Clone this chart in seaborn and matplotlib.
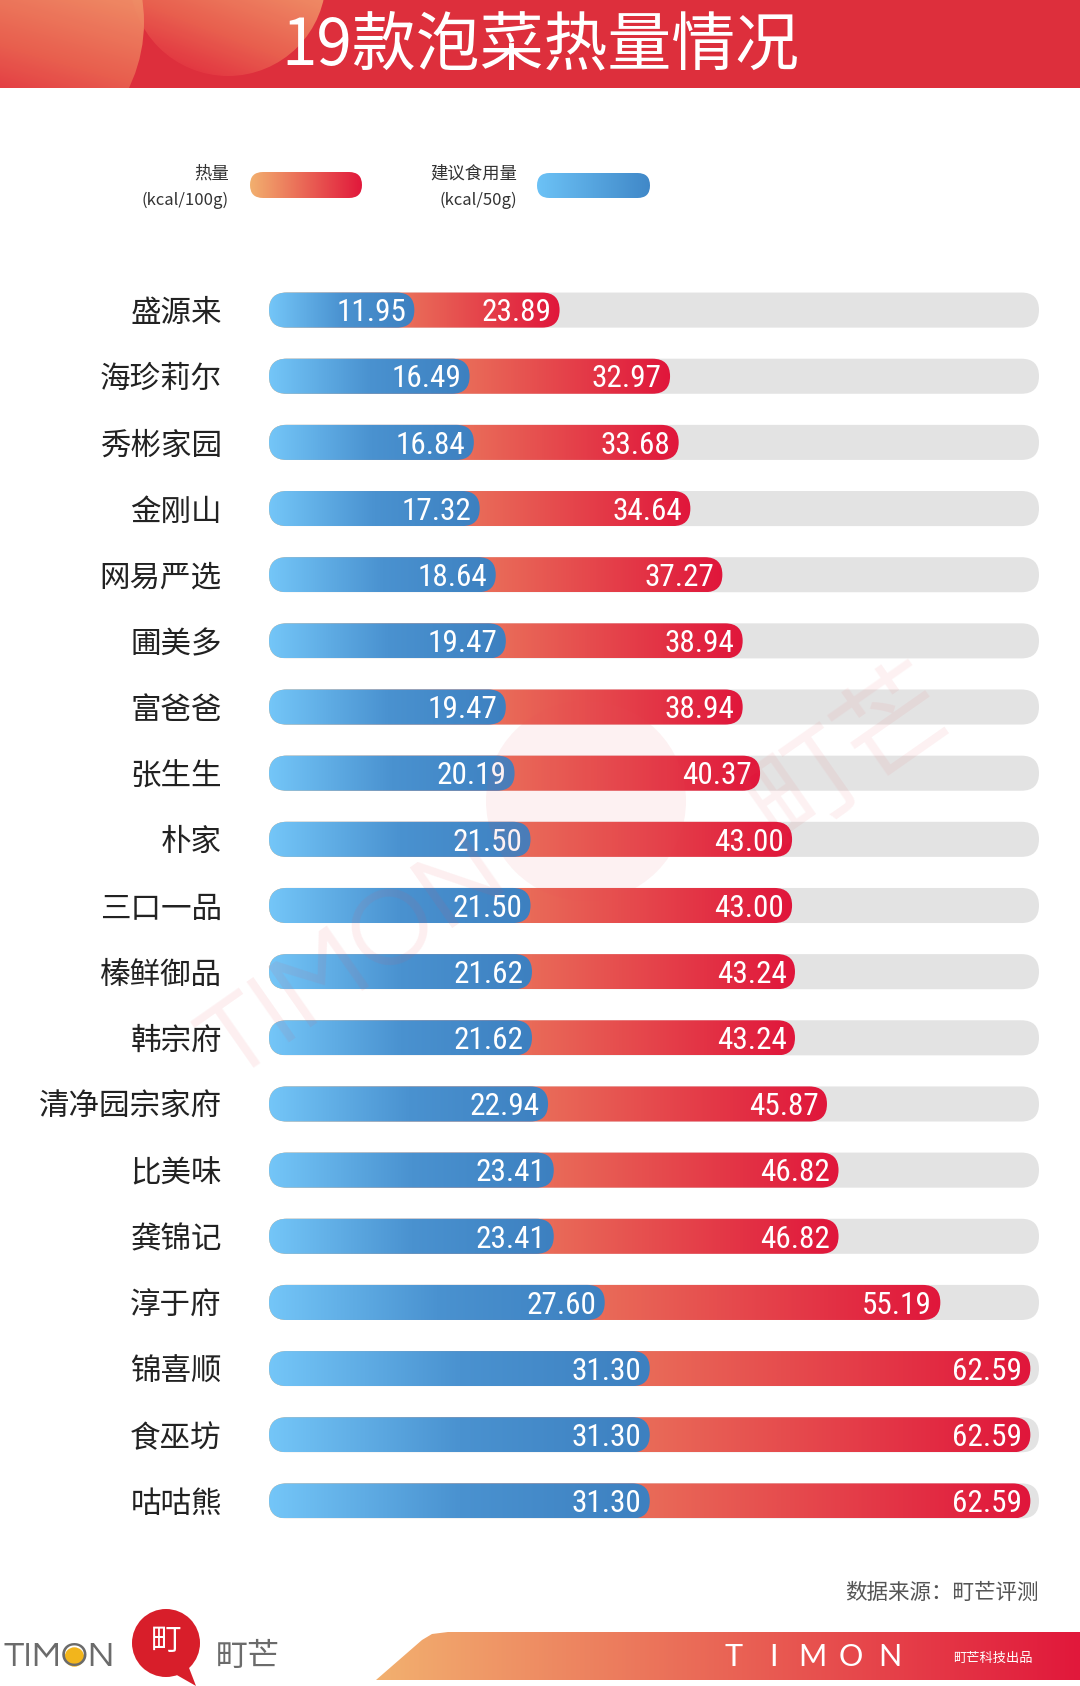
import numpy as np
import pandas as pd
import matplotlib
matplotlib.use("Agg")
import matplotlib.pyplot as plt
import seaborn as sns
from matplotlib import font_manager as fm
from matplotlib.patches import FancyBboxPatch, Circle, Polygon, Rectangle
from matplotlib.colors import LinearSegmentedColormap

# données
brands = ["盛源来", "海珍莉尔", "秀彬家园", "金刚山", "网易严选", "圃美多", "富爸爸", "张生生",
          "朴家", "三口一品", "榛鲜御品", "韩宗府", "清净园宗家府", "比美味", "龚锦记", "淳于府",
          "锦喜顺", "食巫坊", "咕咕熊"]
heat = [23.89, 32.97, 33.68, 34.64, 37.27, 38.94, 38.94, 40.37, 43.00, 43.00,
        43.24, 43.24, 45.87, 46.82, 46.82, 55.19, 62.59, 62.59, 62.59]
serving = [11.95, 16.49, 16.84, 17.32, 18.64, 19.47, 19.47, 20.19, 21.50, 21.50,
           21.62, 21.62, 22.94, 23.41, 23.41, 27.60, 31.30, 31.30, 31.30]

title = "19款泡菜热量情况"
source = "数据来源：町芒评测"

W, H = 1080, 1686
TRACK_MAX = 63.3
BAR_H = 0.53

installed = {f.name for f in fm.fontManager.ttflist}
def pick(cands):
    for c in cands:
        if c in installed:
            return c
    return "DejaVu Sans"

CJK = ["Noto Sans CJK SC", "DejaVu Sans"]
NUM = [pick(["Roboto Condensed", "Fira Sans Condensed", "PT Sans Narrow", "Archivo Narrow",
             "Liberation Sans Narrow"]), "DejaVu Sans"]
LOGO = [pick(["Questrial", "Didact Gothic", "Lato", "Roboto"]), "DejaVu Sans"]
THIN = [pick(["Lato", "Roboto", "Open Sans"]), "DejaVu Sans"]

sns.set_theme(style="white")
plt.rcParams["font.family"] = CJK

red_cmap = LinearSegmentedColormap.from_list("red", ["#f3b473", "#e96a58", "#e0163b"])
blue_cmap = LinearSegmentedColormap.from_list("blue", ["#74c6f8", "#4a92d0", "#3d80c0"])
red_leg = LinearSegmentedColormap.from_list("redl", ["#f2b06f", "#e1183b"])
blue_leg = LinearSegmentedColormap.from_list("bluel", ["#6cc2f6", "#4088c8"])
circ_cmap = LinearSegmentedColormap.from_list("circ", ["#e01f3a", "#e9604f", "#f09068"])
grad = np.linspace(0, 1, 256)[None, :]
gx, gy = np.meshgrid(np.linspace(0, 1, 128), np.linspace(0, 1, 128))
diag = (gx + (1 - gy)) / 2

fig = plt.figure(figsize=(W / 100, H / 100), dpi=100)

# fond en pixels
bg = fig.add_axes([0, 0, 1, 1], zorder=0)
bg.set_xlim(0, W)
bg.set_ylim(H, 0)
bg.axis("off")

# bandeau du titre
BAND_H = 88
bg.add_patch(Rectangle((0, 0), W, BAND_H, facecolor="#dd2f3c", edgecolor="none", zorder=1))
for (cx, cy, r, z) in [(228, -22, 98, 2), (-8, 22, 152, 3)]:
    c = Circle((cx, cy), r, facecolor="none", edgecolor="none", zorder=z)
    bg.add_patch(c)
    im = bg.imshow(diag, cmap=circ_cmap, extent=(cx - r, cx + r, min(cy + r, BAND_H), max(cy - r, 0)),
                   aspect="auto", zorder=z, alpha=0.95)
    im.set_clip_path(c)
bg.text(540, 46, title, color="white", fontsize=46, ha="center", va="center",
        fontweight="light", zorder=4)

# légende
def pill(ax, x0, y0, w, h, cmap, z=2):
    p = FancyBboxPatch((x0, y0), w, h, boxstyle=f"round,pad=0,rounding_size={h / 2}",
                       facecolor="none", edgecolor="none", zorder=z)
    ax.add_patch(p)
    im = ax.imshow(grad, cmap=cmap, extent=(x0, x0 + w, y0 + h, y0), aspect="auto",
                   zorder=z, interpolation="bicubic")
    im.set_clip_path(p)

pill(bg, 250, 172, 112, 26, red_leg)
pill(bg, 537, 173, 113, 25, blue_leg)
bg.text(229, 174, "热量", fontsize=12.5, ha="right", va="center", color="#333333")
bg.text(229, 200, "(kcal/100g)", fontsize=12, ha="right", va="center", color="#333333")
bg.text(517, 174, "建议食用量", fontsize=12.5, ha="right", va="center", color="#333333")
bg.text(517, 200, "(kcal/50g)", fontsize=12, ha="right", va="center", color="#333333")

# pied de page
bg.text(1039, 1593, source, fontsize=15.5, ha="right", va="center", color="#555555",
        style="italic")
foot = Polygon([(376, 1680), (422, 1640), (432, 1634), (448, 1632), (W, 1632), (W, 1680)],
               closed=True, facecolor="none", edgecolor="none", zorder=2)
bg.add_patch(foot)
im = bg.imshow(grad, cmap=red_leg, extent=(376, W, 1680, 1632), aspect="auto", zorder=2)
im.set_clip_path(foot)
for i, ch in enumerate("TIMON"):
    bg.text(734 + i * 39, 1657, ch, fontsize=22, ha="center", va="center", color="white",
            family=THIN, zorder=3)
bg.text(993, 1658, "町芒科技出品", fontsize=9.5, ha="center", va="center", color="white",
        style="italic", zorder=3)

# logo à gauche
LOGO_FS = 26
logo = bg.text(3, 1657, "TIMON", fontsize=LOGO_FS, ha="left", va="center", color="#6b6b6b",
               family=LOGO, zorder=3)
fig.canvas.draw()
rend = fig.canvas.get_renderer()
tmp = bg.text(3, 1657, "TIM", fontsize=LOGO_FS, ha="left", va="center", family=LOGO)
w_tim = tmp.get_window_extent(rend).width
tmp.set_text("TIMO")
w_timo = tmp.get_window_extent(rend).width
tmp.remove()
bg.add_patch(Circle((3 + (w_tim + w_timo) / 2, 1657), (w_timo - w_tim) * 0.36,
                    facecolor="#f2b51c", edgecolor="none", zorder=2))
bg.add_patch(Polygon([(168, 1670), (196, 1686), (186, 1660)], closed=True,
                     facecolor="#d81e2a", edgecolor="none", zorder=2))
bg.add_patch(Circle((166, 1643), 34, facecolor="#d81e2a", edgecolor="none", zorder=2))
bg.text(166, 1641, "町", fontsize=22, ha="center", va="center", color="white", zorder=3)
bg.text(216, 1657, "町芒", fontsize=23, ha="left", va="center", color="#6b6b6b",
        style="italic")

# graphique principal
top_px, bot_px, left_px, right_px = 277, 1534, 269, 1039
ax = fig.add_axes([left_px / W, 1 - bot_px / H, (right_px - left_px) / W, (bot_px - top_px) / H],
                  zorder=1)
ax.patch.set_alpha(0)

df = pd.DataFrame({"brand": brands, "heat": heat, "serving": serving})
df["track"] = TRACK_MAX

layers = [("track", "#e3e3e3", None, 1), ("heat", "#e96a58", red_cmap, 2),
          ("serving", "#4a92d0", blue_cmap, 3)]
groups = []
for col, colr, cmap, z in layers:
    n0 = len(ax.patches)
    sns.barplot(data=df, x=col, y="brand", orient="h", color=colr, width=BAR_H,
                errorbar=None, ax=ax)
    groups.append((list(ax.patches[n0:]), cmap, z))

px_x = (right_px - left_px) / TRACK_MAX
px_y = (bot_px - top_px) / len(brands)
asp = px_x / px_y

for rects, cmap, z in groups:
    for r in rects:
        x0, y0, w, h = r.get_x(), r.get_y(), r.get_width(), r.get_height()
        r.remove()
        box = FancyBboxPatch((x0, y0), w, h,
                             boxstyle=f"round,pad=0,rounding_size={h / asp / 2}",
                             mutation_aspect=asp, edgecolor="none", zorder=z,
                             facecolor="#e3e3e3" if cmap is None else "none")
        ax.add_patch(box)
        if cmap is not None:
            im = ax.imshow(grad, cmap=cmap, extent=(x0, x0 + w, y0 + h, y0), aspect="auto",
                           zorder=z, interpolation="bicubic")
            im.set_clip_path(box)

ax.set_xlim(0, TRACK_MAX)
ax.set_ylim(len(brands) - 0.5, -0.5)

NUM_FS = 22.5
for i, (h_, s_) in enumerate(zip(heat, serving)):
    for v in (h_, s_):
        ax.annotate(f"{v:.2f}", (v, i), xytext=(-6, -0.36 * NUM_FS), textcoords="offset points",
                    ha="right", va="baseline", color="white", fontsize=NUM_FS, family=NUM,
                    zorder=5)

ax.set_xticks([])
ax.set_yticks(range(len(brands)))
ax.set_yticklabels(brands, fontsize=22, color="#222222")
ax.tick_params(axis="y", length=0, pad=34)
ax.set_xlabel("")
ax.set_ylabel("")
sns.despine(ax=ax, left=True, bottom=True)

# filigrane
wm = fig.add_axes([0, 0, 1, 1], zorder=5)
wm.set_xlim(0, W)
wm.set_ylim(H, 0)
wm.axis("off")
wm.patch.set_alpha(0)
wm.add_patch(Circle((586, 801), 100, facecolor="#e8505a", edgecolor="none", alpha=0.08))
wm.text(355, 960, "TIMON", fontsize=80, rotation=35, ha="center", va="center",
        color="#e8505a", alpha=0.09, family=LOGO)
wm.text(850, 755, "町芒", fontsize=80, rotation=35, ha="center", va="center",
        color="#e8505a", alpha=0.08)

fig.savefig("out.png", dpi=100)
